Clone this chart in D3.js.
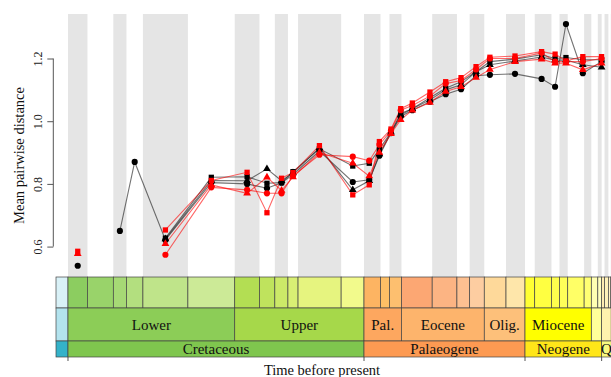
<!DOCTYPE html>
<html><head><meta charset="utf-8">
<script src="https://cdn.jsdelivr.net/npm/d3@7"></script>
<style>body{margin:0;background:#fff}svg{display:block}</style>
</head><body><svg id="c" width="611" height="377"></svg>
<script>
// ---- data ----
const times = [142.4, 136.35, 131.15, 127.2, 119.0, 106.75, 97.2, 91.9, 88.0, 84.95, 77.9, 69.0, 64.6, 61.9, 58.8, 56.2, 53.1, 48.4, 44.2, 40.1, 36.1, 32.4, 25.7, 18.6, 15.0, 12.1, 7.6, 2.6];
const blackCircle   = [0.539, null, 0.650, 0.870, 0.621, 0.804, 0.800, 0.786, 0.804, 0.830, 0.905, 0.806, 0.813, 0.890, 0.962, 1.015, 1.035, 1.062, 1.086, 1.102, 1.145, 1.148, 1.151, 1.135, 1.110, 1.310, 1.153, 1.190];
const blackSquare   = [null, null, null, null, 0.627, 0.821, 0.823, 0.802, 0.804, 0.839, 0.912, 0.857, 0.866, 0.910, 0.965, 1.025, 1.040, 1.075, 1.105, 1.126, 1.158, 1.190, 1.198, 1.212, 1.200, 1.203, 1.196, 1.196];
const blackTriangle = [null, null, null, null, 0.624, 0.811, 0.810, 0.848, 0.810, 0.835, 0.915, 0.781, 0.810, 0.895, 0.965, 1.020, 1.040, 1.068, 1.100, 1.116, 1.158, 1.180, 1.192, 1.205, 1.195, 1.195, 1.180, 1.172];
const redCircle     = [null, null, null, null, 0.574, 0.789, 0.781, 0.770, 0.770, 0.826, 0.893, 0.887, 0.874, 0.925, 0.970, 1.035, 1.050, 1.080, 1.120, 1.130, 1.165, 1.200, 1.200, 1.218, 1.190, 1.190, 1.190, 1.200];
const redSquare     = [0.585, null, null, null, 0.653, 0.811, 0.837, 0.708, 0.818, 0.836, 0.922, 0.765, 0.797, 0.935, 0.975, 1.040, 1.058, 1.093, 1.126, 1.139, 1.174, 1.204, 1.208, 1.222, 1.214, 1.192, 1.206, 1.206];
const redTriangle   = [0.577, null, null, null, 0.609, 0.797, 0.770, 0.821, 0.779, 0.822, 0.900, 0.866, 0.825, 0.900, 0.960, 1.005, 1.035, 1.060, 1.095, 1.110, 1.139, 1.165, 1.190, 1.198, 1.185, 1.185, 1.164, 1.185];

const yTicks = [0.6, 0.8, 1.0, 1.2];

const stageNames  = ["Tithonian","Berriasian","Valanginian","Hauterivian","Barremian","Aptian","Albian","Cenomanian","Turonian","Coniacian","Santonian","Campanian","Maastrichtian","Danian","Selandian","Thanetian","Ypresian","Lutetian","Bartonian","Priabonian","Rupelian","Chattian","Aquitanian","Burdigalian","Langhian","Serravallian","Tortonian","Messinian","Zanclean","Piacenzian","Gelasian","Calabrian","Middle","Upper","Holocene"];
const stageBounds = [148.2,145,139.8,132.9,129.4,125,113,100.5,93.9,89.8,86.3,83.6,72.1,66,61.6,59.2,56,47.8,41.2,37.8,33.9,28.1,23.03,20.44,15.97,13.82,11.63,7.246,5.333,3.6,2.58,1.8,0.781,0.126,0.0117,0];
const stageColors = ["#D9F1F7","#8CCD60","#99D36A","#A6D975","#B3DF7F","#BFE48A","#CCEA97","#B3DE53","#BFE35D","#CCE968","#D9EF74","#E6F47F","#F2FA8C","#FDB462","#FEBF65","#FDBF6F","#FCA773","#FCB483","#FDC091","#FDCDA1","#FED99A","#FEE6AA","#FFFF33","#FFFF41","#FFFF4D","#FFFF59","#FFFF66","#FFFF73","#FFFFB3","#FFFFBF","#FFEDB3","#FFF2BA","#FFF2C7","#FFF2D3","#FEF2E0"];

const epochLabels = ["","Lower","Upper","Pal.","Eocene","Olig.","Miocene","","",""];
const epochBounds = [148.2,145,100.5,66,56,33.9,23.03,5.333,2.58,0.0117,0];
const epochColors = ["#B3E3EE","#8CCD57","#A6D84A","#FDA75F","#FDB46C","#FDC07A","#FFFF00","#FFFF99","#FFF2AE","#FEF2E0"];

const periodLabels = ["","Cretaceous","Palaeogene","Neogene","Q"];
const periodBounds = [148.2,145,66,23.03,2.58,0];
const periodColors = ["#34B2C9","#7FC64E","#FD9A52","#FFE619","#F9F97F"];

const axisTicksMa = [145, 66, 23.03, 2.58];

// ---- drawing ----
const svg = d3.select("#c");
const x = d3.scaleLinear().domain([148.2, 0]).range([56, 611.3]);
const y = d3.scaleLinear().domain([0.503, 1.342]).range([277, 14]);
const serif = "'Liberation Serif','Times New Roman',serif";

// grey stage bands
const stages = stageNames.map((n,i)=>({n, a:stageBounds[i], b:stageBounds[i+1], c:stageColors[i], i}));
svg.append("g").selectAll("rect").data(stages.filter(d=>d.i%2===1)).join("rect")
  .attr("x", d=>x(d.a)).attr("width", d=>x(d.b)-x(d.a))
  .attr("y", 14).attr("height", 277-14).attr("fill", "#e5e5e5");

// timescale rows
const rows = [
  {top:277, bot:308, data: stages.map(d=>({a:d.a,b:d.b,c:d.c,l:""}))},
  {top:308, bot:341, data: epochColors.map((c,i)=>({a:epochBounds[i],b:epochBounds[i+1],c,l:epochLabels[i]}))},
  {top:341, bot:357, data: periodColors.map((c,i)=>({a:periodBounds[i],b:periodBounds[i+1],c,l:periodLabels[i]}))}
];
rows.forEach(r=>{
  const g = svg.append("g");
  g.selectAll("rect").data(r.data).join("rect")
    .attr("x", d=>x(d.a)).attr("width", d=>x(d.b)-x(d.a))
    .attr("y", r.top).attr("height", r.bot-r.top)
    .attr("fill", d=>d.c).attr("stroke", "#444").attr("stroke-width", 0.7);
  g.selectAll("text").data(r.data.filter(d=>d.l)).join("text")
    .attr("x", d=>Math.min((x(d.a)+x(d.b))/2, 607))
    .attr("y", (r.top+r.bot)/2 + 5)
    .attr("text-anchor","middle").attr("font-family", serif).attr("font-size", 15)
    .attr("fill","#111").text(d=>d.l);
});

// x ticks below timescale
svg.append("g").selectAll("line").data(axisTicksMa).join("line")
  .attr("x1", d=>x(d)).attr("x2", d=>x(d)).attr("y1", 357).attr("y2", 361)
  .attr("stroke","#555").attr("stroke-width",1);
svg.append("text").attr("x", 322).attr("y", 375).attr("text-anchor","middle")
  .attr("font-family", serif).attr("font-size", 14.5).attr("fill","#111").text("Time before present");

// y axis
const ax = svg.append("g").attr("transform","translate(53.3,0)")
  .call(d3.axisLeft(y).tickValues(yTicks).tickFormat(d3.format(".1f")).tickSize(6).tickSizeOuter(0));
ax.select(".domain").attr("stroke","#555").attr("d", `M0,${y(0.6)}V${y(1.2)}`);
ax.selectAll(".tick line").attr("stroke","#555");
ax.selectAll(".tick text").attr("font-family", serif).attr("font-size", 12).attr("fill","#222")
  .attr("x", 0).attr("dy", null).attr("text-anchor","middle")
  .attr("transform","translate(-11,0) rotate(-90)").attr("y", 0).attr("dominant-baseline","auto");
svg.append("text").attr("transform", `translate(24,${155.5}) rotate(-90)`).attr("text-anchor","middle")
  .attr("font-family", serif).attr("font-size", 14.5).attr("fill","#111").text("Mean pairwise distance");

// series
const series = [
  {v:blackCircle, col:"#000", line:"rgba(40,40,40,0.65)", sym:d3.symbolCircle, size:30},
  {v:blackSquare, col:"#000", line:"rgba(40,40,40,0.65)", sym:d3.symbolSquare, size:28},
  {v:blackTriangle, col:"#000", line:"rgba(40,40,40,0.65)", sym:d3.symbolTriangle, size:26},
  {v:redCircle, col:"#f00", line:"rgba(255,0,0,0.6)", sym:d3.symbolCircle, size:30},
  {v:redSquare, col:"#f00", line:"rgba(255,0,0,0.6)", sym:d3.symbolSquare, size:28},
  {v:redTriangle, col:"#f00", line:"rgba(255,0,0,0.6)", sym:d3.symbolTriangle, size:26}
];
const line = d3.line().defined(d=>d.v!=null).x(d=>x(d.t)).y(d=>y(d.v));
series.forEach(s=>{
  const pts = times.map((t,i)=>({t, v:s.v[i]}));
  svg.append("path").attr("d", line(pts)).attr("fill","none").attr("stroke", s.line).attr("stroke-width",1.1);
});
series.forEach(s=>{
  const pts = times.map((t,i)=>({t, v:s.v[i]})).filter(d=>d.v!=null);
  svg.append("g").selectAll("path").data(pts).join("path")
    .attr("transform", d=>`translate(${x(d.t)},${y(d.v)})`)
    .attr("d", d3.symbol().type(s.sym).size(s.size)).attr("fill", s.col);
});
</script></body></html>
